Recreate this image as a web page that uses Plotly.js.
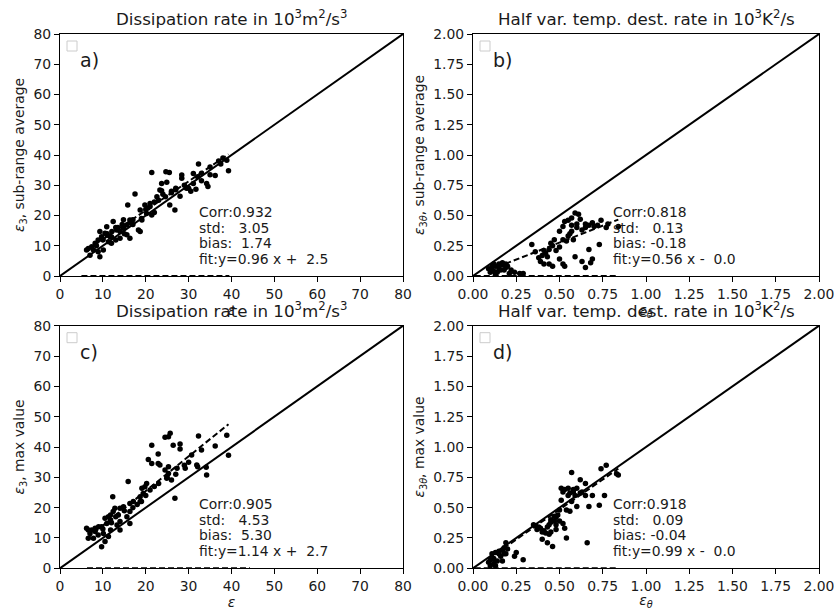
<!DOCTYPE html>
<html>
<head>
<meta charset="utf-8">
<script src="https://cdn.plot.ly/plotly-3.0.1.min.js"></script>
<style>html,body{margin:0;padding:0;background:#fff;}#plot{width:834px;height:610px;}</style>
</head>
<body>
<div id="plot"></div>
<script>
// ---------- data ----------
// panel a: epsilon vs eps3 sub-range average
const aX = [32.3,38.9,39.3,36.2,21.4,24.7,25.5,28.4,28.4,31.1,32.1,31.1,34.2,34.5,31.7,28.0,23.7,24.9,17.5,23.3,23.7,24.6,22.6,26.8,25.6,21.0,19.8,18.7,20.2,21.4,15.8,19.1,18.3,16.3,15.6,14.8,14.0,12.4,13.2,12.1,11.7,10.9,10.5,9.7,8.9,9.3,8.2,7.4,6.6,6.2,7.8,7.0,8.9,10.1,9.3,16.3,15.6,18.7,14.0,13.0,12.0,11.3,14.8,17.0,27.0,29.5,30.5,26.0,22.0,20.5,13.5,10.0,8.5,11.0,16.5,37.5,35.0,33.0,
  10.0,11.0,12.0,13.0,14.5,15.0,17.0,19.0,20.0,21.0,22.0,23.0,24.0,26.0,27.0,29.0,30.0,33.0,35.0,37.0,38.0];
const aY = [37.0,38.3,34.8,33.2,34.2,34.5,34.2,33.4,32.3,33.9,32.8,30.6,30.6,29.6,28.7,26.4,30.6,31.0,27.1,28.4,28.2,26.2,26.2,21.8,23.5,24.0,23.5,21.8,20.7,20.2,23.5,18.5,15.2,18.5,16.9,15.8,14.7,18.0,15.2,14.7,13.0,16.3,14.1,13.0,11.9,14.7,10.8,9.7,9.1,8.6,8.6,6.9,8.0,8.6,6.4,12.5,13.6,14.7,12.5,11.9,10.8,11.3,18.6,18.6,28.5,29.0,28.0,27.5,24.5,22.5,16.0,12.0,10.0,13.5,17.5,37.0,33.5,31.5,
  12.0,14.0,13.0,16.0,17.0,14.0,17.0,19.0,22.0,23.0,21.0,25.0,27.0,28.0,29.0,30.0,29.0,34.0,36.0,38.0,39.0];
// panel b: epsilon_theta vs eps3theta sub-range average
const bX = [0.59,0.61,0.53,0.55,0.52,0.57,0.60,0.63,0.65,0.67,0.69,0.74,0.72,0.77,0.50,0.56,0.58,0.54,0.47,0.46,0.44,0.42,0.40,0.43,0.38,0.39,0.41,0.44,0.46,0.34,0.50,0.52,0.59,0.63,0.67,0.69,0.73,0.65,0.68,0.53,0.84,0.09,0.11,0.13,0.15,0.17,0.19,0.20,0.12,0.16,0.14,0.10,0.18,0.22,0.24,0.27,0.29,0.21,0.13,0.12,0.15,0.17,0.11,0.19,
  0.45,0.48,0.50,0.52,0.55,0.57,0.60,0.62,0.57,0.65,0.70,0.78,0.36,0.41];
const bY = [0.52,0.51,0.45,0.46,0.41,0.42,0.40,0.38,0.40,0.42,0.44,0.46,0.42,0.40,0.37,0.35,0.30,0.29,0.30,0.25,0.22,0.19,0.17,0.16,0.15,0.12,0.10,0.10,0.08,0.26,0.14,0.10,0.16,0.12,0.22,0.14,0.26,0.07,0.11,0.08,0.41,0.06,0.08,0.08,0.10,0.09,0.10,0.08,0.04,0.05,0.03,0.03,0.05,0.05,0.03,0.02,0.02,0.02,0.01,0.10,0.06,0.11,0.05,0.07,
  0.27,0.21,0.24,0.30,0.33,0.37,0.43,0.47,0.48,0.43,0.41,0.43,0.20,0.21];
// panel c: epsilon vs eps3 max value
const cX = [25.3,25.7,24.5,32.3,38.9,39.3,36.2,21.4,26.4,28.0,28.0,22.9,20.6,21.4,22.9,23.3,25.3,24.5,25.3,27.3,29.2,30.7,31.9,32.1,34.1,34.2,24.9,26.0,15.9,19.1,19.8,20.2,21.0,19.4,18.7,26.8,12.3,17.1,16.3,18.7,14.8,14.0,12.8,12.4,13.6,11.8,11.3,10.5,16.3,15.6,16.3,14.0,13.3,11.8,10.9,9.7,9.0,8.2,7.4,6.6,6.2,7.0,8.2,8.9,10.1,7.8,6.6,9.7,10.5,11.8,11.3,14.0,
  10.0,12.0,13.0,15.0,17.0,18.0,19.0,20.0,22.0,23.0,25.0,27.0,29.0,30.0,33.0];
const cY = [43.4,44.5,43.2,43.6,43.9,37.3,40.3,40.6,40.6,41.0,39.3,37.7,35.9,34.6,34.6,34.1,33.5,32.4,31.3,33.0,33.0,37.4,34.1,33.5,33.3,30.8,29.7,29.1,28.6,26.4,26.9,28.0,25.8,24.7,23.6,23.1,23.6,22.0,21.4,22.0,20.3,19.8,19.8,18.7,17.6,17.6,17.0,16.5,18.7,17.0,14.8,15.4,14.3,15.9,14.8,13.7,13.7,13.2,12.6,12.6,13.2,11.5,12.1,11.0,11.5,9.9,9.9,7.1,8.8,12.6,10.5,12.6,
  13.0,15.0,17.0,19.0,20.0,21.0,22.0,24.0,27.0,28.0,30.0,31.0,34.0,35.0,39.0];
// panel d: epsilon_theta vs eps3theta max value
const dX = [0.57,0.74,0.77,0.83,0.84,0.62,0.65,0.51,0.53,0.55,0.58,0.60,0.52,0.56,0.59,0.63,0.69,0.76,0.51,0.57,0.60,0.67,0.73,0.65,0.54,0.56,0.50,0.49,0.47,0.45,0.47,0.50,0.52,0.48,0.44,0.53,0.48,0.43,0.41,0.39,0.36,0.37,0.42,0.44,0.40,0.43,0.46,0.54,0.66,0.45,0.11,0.13,0.15,0.17,0.19,0.18,0.16,0.12,0.10,0.14,0.09,0.12,0.17,0.13,0.25,0.24,0.29,0.10,0.19,0.20,
  0.55,0.58,0.62,0.48,0.45,0.38,0.35,0.40,0.15,0.18];
const dY = [0.79,0.82,0.85,0.78,0.77,0.73,0.70,0.66,0.65,0.66,0.65,0.66,0.63,0.62,0.60,0.63,0.60,0.60,0.56,0.55,0.51,0.51,0.52,0.60,0.48,0.47,0.48,0.44,0.43,0.40,0.39,0.39,0.37,0.36,0.36,0.33,0.32,0.34,0.31,0.33,0.35,0.32,0.29,0.28,0.24,0.21,0.18,0.25,0.21,0.30,0.12,0.13,0.14,0.15,0.21,0.12,0.10,0.08,0.07,0.06,0.05,0.04,0.06,0.02,0.13,0.10,0.07,0.02,0.12,0.16,
  0.60,0.63,0.62,0.42,0.38,0.34,0.36,0.30,0.12,0.17];

const panelLetters = ["a)", "b)", "c)", "d)"];
const axisMax = [80, 2, 80, 2];
const fitSlope = [0.96, 0.56, 1.14, 0.99];
const fitIntercept = [2.5, -0.004, 2.7, -0.01];
const zeroLineStart = [5.0, 0.01, 6.3, 0.01];
const zeroLineEnd = [39.5, 0.83, 44.3, 0.84];
const statsText = [
  ["Corr:0.932", "std:   3.05", "bias:  1.74", "fit:y=0.96 x +  2.5"],
  ["Corr:0.818", "std:   0.13", "bias: -0.18", "fit:y=0.56 x -  0.0"],
  ["Corr:0.905", "std:   4.53", "bias:  5.30", "fit:y=1.14 x +  2.7"],
  ["Corr:0.918", "std:   0.09", "bias: -0.04", "fit:y=0.99 x -  0.0"]
];
const panelTitles = [
  "Dissipation rate in 10<sup>3</sup>m<sup>2</sup>/s<sup>3</sup>",
  "Half var. temp. dest. rate in 10<sup>3</sup>K<sup>2</sup>/s",
  "Dissipation rate in 10<sup>3</sup>m<sup>2</sup>/s<sup>3</sup>",
  "Half var. temp. dest. rate in 10<sup>3</sup>K<sup>2</sup>/s"
];
const xTitles = ["<i>ε</i>", "<i>ε</i><sub><i>θ</i></sub>", "<i>ε</i>", "<i>ε</i><sub><i>θ</i></sub>"];
const yTitles = [
  "<i>ε</i><sub>3</sub>, sub-range average",
  "<i>ε</i><sub>3<i>θ</i></sub>, sub-range average",
  "<i>ε</i><sub>3</sub>, max value",
  "<i>ε</i><sub>3<i>θ</i></sub>, max value"
];
const tickStep = [10, 0.25, 10, 0.25];
const tickFmt = ["d", ".2f", "d", ".2f"];

const xsAll = [aX, bX, cX, dX];
const ysAll = [aY, bY, cY, dY];

// ---------- layout geometry (pixels) ----------
const W = 834, H = 610;
const colPx = [[60, 403], [473, 819]];
const rowPx = [[34, 276], [325.7, 568.3]];
const FONT = "DejaVu Sans, Liberation Sans, sans-serif";
const TXT = "#1a1a1a";
const FS = 13.9;

const traces = [];
const layout = {
  width: W, height: H,
  margin: {l: 0, r: 0, t: 0, b: 0},
  paper_bgcolor: "#fff", plot_bgcolor: "#fff",
  showlegend: false,
  font: {family: FONT, size: FS, color: TXT},
  annotations: [], shapes: []
};

const dash = "6px,3px";
for (let i = 0; i < 4; i++) {
  const col = i % 2, row = Math.floor(i / 2);
  const sfx = i === 0 ? "" : String(i + 1);
  const xa = "x" + sfx, ya = "y" + sfx;
  const [x0, x1] = colPx[col];
  const [y0, y1] = rowPx[row];
  const xs = xsAll[i], ys = ysAll[i];
  const mx = axisMax[i];

  // 1:1 line
  traces.push({x: [0, mx], y: [0, mx], xaxis: xa, yaxis: ya, mode: "lines",
    line: {color: "#000", width: 2}, hoverinfo: "skip"});
  // scatter points
  traces.push({x: xs, y: ys, xaxis: xa, yaxis: ya, mode: "markers",
    marker: {color: "#000", size: 5.5}, name: "data"});
  // fit line over data range
  const xmin = Math.min(...xs), xmax = Math.max(...xs);
  traces.push({x: [xmin, xmax], y: [fitSlope[i] * xmin + fitIntercept[i], fitSlope[i] * xmax + fitIntercept[i]],
    xaxis: xa, yaxis: ya, mode: "lines", line: {color: "#000", width: 2, dash: dash}, hoverinfo: "skip"});
  // dashed zero line
  traces.push({x: [zeroLineStart[i], zeroLineEnd[i]], y: [0, 0], xaxis: xa, yaxis: ya, mode: "lines",
    line: {color: "#000", width: 2, dash: dash}, hoverinfo: "skip", cliponaxis: false});

  const common = {
    showline: true, mirror: true, linecolor: "#000", linewidth: 1,
    ticks: "outside", ticklen: 5, tickwidth: 1, tickcolor: "#000",
    showgrid: false, zeroline: false, range: [0, mx], dtick: tickStep[i], tick0: 0,
    tickformat: tickFmt[i], tickfont: {family: FONT, size: FS, color: TXT},
    ticklabeloverflow: "allow"
  };
  layout["xaxis" + sfx] = Object.assign({}, common, {
    domain: [x0 / W, x1 / W], anchor: ya,
    title: {text: xTitles[i], font: {family: FONT, size: FS, color: TXT}, standoff: 4}
  });
  layout["yaxis" + sfx] = Object.assign({}, common, {
    domain: [1 - y1 / H, 1 - y0 / H], anchor: xa,
    title: {text: yTitles[i], font: {family: FONT, size: FS, color: TXT}, standoff: 5}
  });

  // panel title
  layout.annotations.push({xref: "paper", yref: "paper", x: (x0 + x1) / 2 / W, y: 1 - (y0 - 16) / H,
    text: panelTitles[i], showarrow: false, xanchor: "center", yanchor: "middle",
    font: {family: FONT, size: 16.7, color: TXT}});
  // panel letter
  layout.annotations.push({xref: "paper", yref: "paper", x: (x0 + 18) / W, y: 1 - (y0 + 26) / H,
    text: panelLetters[i], showarrow: false, xanchor: "left", yanchor: "middle",
    font: {family: FONT, size: 19, color: TXT}});
  // stats text
  const tx = (col === 0 ? 197 : 611);
  const ty0 = (row === 0 ? 212 : 504);
  statsText[i].forEach((s, k) => {
    layout.annotations.push({xref: "paper", yref: "paper", x: tx / W, y: 1 - (ty0 + k * 15.5) / H,
      text: s.replace(/ /g, "\u00a0"), showarrow: false, xanchor: "left", yanchor: "middle",
      font: {family: FONT, size: FS, color: TXT}});
  });
  // empty legend box
  layout.shapes.push({type: "rect", xref: "paper", yref: "paper",
    x0: (x0 + 7) / W, x1: (x0 + 17) / W, y0: 1 - (y0 + 17) / H, y1: 1 - (y0 + 7) / H,
    line: {color: "#cccccc", width: 1}, fillcolor: "rgba(255,255,255,0.8)"});
}

Plotly.newPlot("plot", traces, layout, {staticPlot: true, displayModeBar: false});
</script>
</body>
</html>
